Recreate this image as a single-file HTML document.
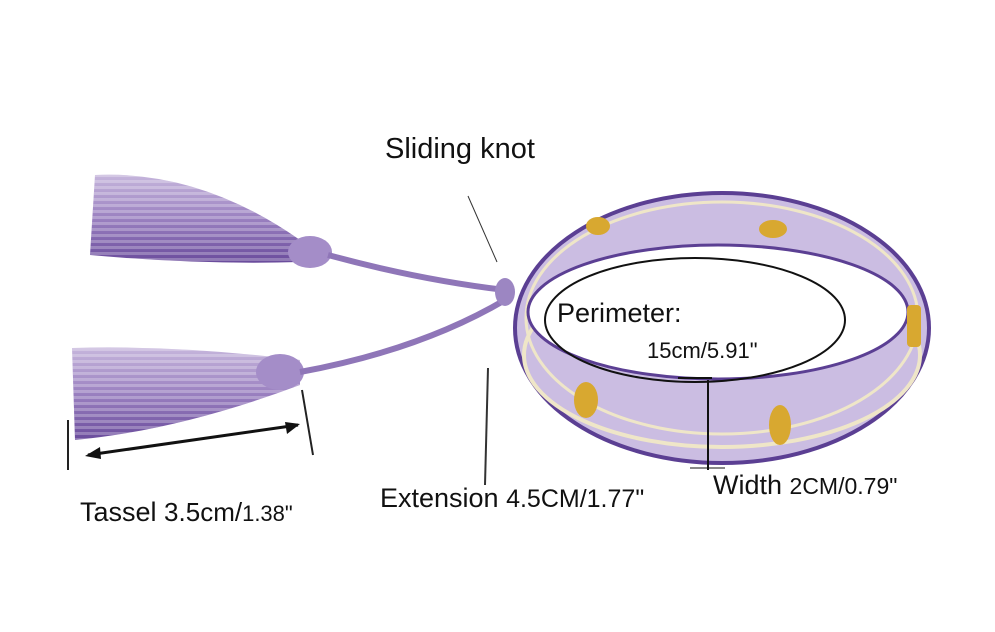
<!DOCTYPE html>
<html><head><meta charset="utf-8"><style>
html,body{margin:0;padding:0;background:#fff;}
body{width:995px;height:632px;overflow:hidden;position:relative;font-family:"Liberation Sans",sans-serif;}
.t{position:absolute;color:#111;white-space:nowrap;}
</style></head><body>
<svg width="995" height="632" style="position:absolute;left:0;top:0">
<defs>
<linearGradient id="tg" x1="0" y1="0" x2="0" y2="1">
<stop offset="0" stop-color="#c6b6dc"/><stop offset="0.5" stop-color="#9a80c0"/><stop offset="1" stop-color="#6a4c9c"/>
</linearGradient>
<pattern id="st" width="6" height="6" patternUnits="userSpaceOnUse"><rect width="6" height="3" fill="#ffffff" opacity="0.25"/></pattern>
</defs>
<path d="M95 175 Q200 170 300 240 L300 262 Q200 265 90 255 Z" fill="url(#tg)"/>
<path d="M95 175 Q200 170 300 240 L300 262 Q200 265 90 255 Z" fill="url(#st)"/>
<path d="M72 348 Q180 345 300 360 L300 385 Q180 430 75 440 Z" fill="url(#tg)"/>
<path d="M72 348 Q180 345 300 360 L300 385 Q180 430 75 440 Z" fill="url(#st)"/>
<ellipse cx="310" cy="252" rx="22" ry="16" fill="#a48dc8"/>
<ellipse cx="280" cy="372" rx="24" ry="18" fill="#a48dc8"/>
<path d="M328 255 Q420 280 505 290" stroke="#8f76b8" stroke-width="6" fill="none"/>
<path d="M300 372 Q420 350 505 300" stroke="#8f76b8" stroke-width="6" fill="none"/>
<ellipse cx="505" cy="292" rx="10" ry="14" fill="#9c86c2"/>
<ellipse cx="722" cy="328" rx="207" ry="135" fill="#cbbde2"/>
<ellipse cx="722" cy="328" rx="207" ry="135" fill="none" stroke="#5b3f93" stroke-width="4"/>
<ellipse cx="722" cy="355" rx="198" ry="92" fill="none" stroke="#efe6c8" stroke-width="4"/>
<ellipse cx="722" cy="318" rx="196" ry="116" fill="none" stroke="#efe6c8" stroke-width="3"/>
<ellipse cx="718" cy="312" rx="190" ry="67" fill="#fff"/>
<ellipse cx="718" cy="312" rx="190" ry="67" fill="none" stroke="#5b3f93" stroke-width="3"/>
<ellipse cx="598" cy="226" rx="12" ry="9" fill="#d8a830"/>
<ellipse cx="773" cy="229" rx="14" ry="9" fill="#d8a830"/>
<rect x="907" y="305" width="14" height="42" rx="4" fill="#d8a830"/>
<ellipse cx="586" cy="400" rx="12" ry="18" fill="#d8a830"/>
<ellipse cx="780" cy="425" rx="11" ry="20" fill="#d8a830"/>
<ellipse cx="695" cy="320" rx="150" ry="62" fill="none" stroke="#111" stroke-width="2"/>
<line x1="468" y1="196" x2="497" y2="262" stroke="#333" stroke-width="1"/>
<line x1="488" y1="368" x2="485" y2="485" stroke="#333" stroke-width="2"/>
<line x1="68" y1="420" x2="68" y2="470" stroke="#222" stroke-width="2"/>
<line x1="302" y1="390" x2="313" y2="455" stroke="#222" stroke-width="2"/>
<line x1="88" y1="455" x2="298" y2="425" stroke="#111" stroke-width="3"/>
<polygon points="85,456 100,447 101,459" fill="#111"/>
<polygon points="300,424 285,422 287,434" fill="#111"/>
<line x1="678" y1="378" x2="712" y2="378" stroke="#111" stroke-width="2"/>
<line x1="708" y1="380" x2="708" y2="470" stroke="#111" stroke-width="2"/>
<line x1="690" y1="468" x2="725" y2="468" stroke="#111" stroke-width="1"/>
</svg>
<div class="t" style="left:385px;top:133px;font-size:29px;">Sliding knot</div>
<div class="t" style="left:557px;top:298px;font-size:27px;">Perimeter:</div>
<div class="t" style="left:647px;top:338px;font-size:22px;">15cm/5.91"</div>
<div class="t" style="left:713px;top:470px;font-size:27px;">Width <span style="font-size:23px">2CM/0.79"</span></div>
<div class="t" style="left:380px;top:483px;font-size:27px;">Extension <span style="font-size:25px">4.5CM/1.77"</span></div>
<div class="t" style="left:80px;top:497px;font-size:27px;">Tassel <span style="font-size:26px">3.5cm/<span style="font-size:22px">1.38"</span></span></div>
</body></html>
